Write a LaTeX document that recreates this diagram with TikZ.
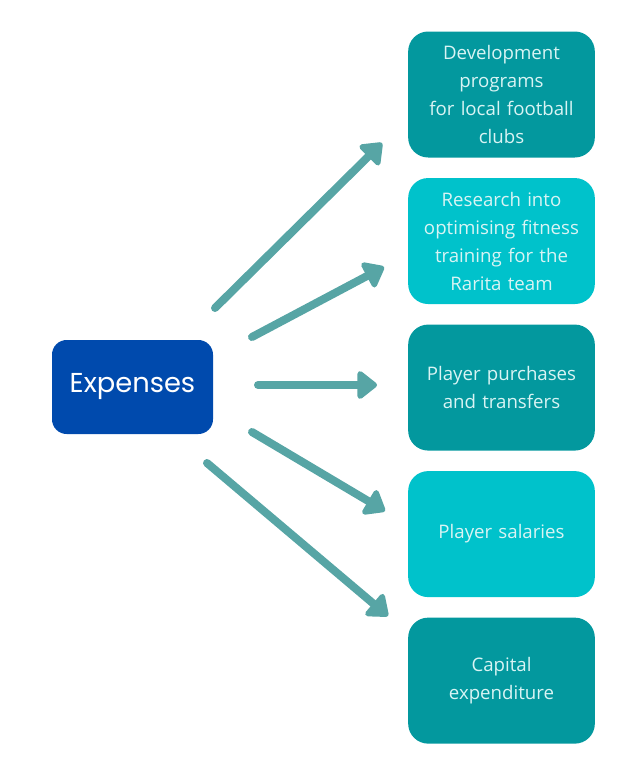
\documentclass[tikz,border=0pt]{standalone}
\usepackage{fontspec}
\setmainfont{Open Sans}
\newfontfamily\poppins{Poppins}
\usetikzlibrary{positioning}
\usetikzlibrary{arrows.meta}
\definecolor{darkBlue}{HTML}{004aad}
\definecolor{darkTeal}{HTML}{03989e}
\definecolor{lightTeal}{HTML}{00c2cb}
\definecolor{arrowTeal}{HTML}{57a5a5}
\definecolor{paleText}{HTML}{d9f4f4}

\begin{document}
\begin{tikzpicture}[x=0.75pt, y=-0.75pt, inner sep=0.0 pt, align=center,
    itembox/.style={rectangle, rounded corners=15pt, text=paleText, font=\fontsize{14}{21}\selectfont, minimum width=140pt, minimum height=94.5pt, text width=130pt},
    flow/.style={draw=arrowTeal, line width=6pt, line cap=round, -{Triangle[length=16pt, width=24pt, round]}}]
    \useasboundingbox (0,0) rectangle (642,760);

    \node [rectangle, fill=darkBlue, rounded corners=11pt, minimum width=120.75pt, minimum height=70.5pt, text=white, font=\poppins\fontsize{20.5}{24}\selectfont] (expenses) at (132.5,387) {Expenses};

    \node [itembox, fill=darkTeal] (devProg) at (501.5,94.5) {Development\\programs\\for local football\\clubs};
    \node [itembox, fill=lightTeal, below=15pt of devProg] (research) {Research into\\optimising fitness\\training for the\\Rarita team};
    \node [itembox, fill=darkTeal, below=15pt of research] (purchases) {Player purchases\\and transfers};
    \node [itembox, fill=lightTeal, below=15pt of purchases] (salaries) {Player salaries};
    \node [itembox, fill=darkTeal, below=15pt of salaries] (capital) {Capital\\expenditure};

    % free ends of the arrows
    \coordinate (devFrom) at (215,308);
    \coordinate (devTo) at (382,143);
    \coordinate (researchFrom) at (252,337);
    \coordinate (researchTo) at (384,267);
    \coordinate (purchasesFrom) at (258,385);
    \coordinate (purchasesTo) at (377,385);
    \coordinate (salariesFrom) at (252,432);
    \coordinate (salariesTo) at (385,511);
    \coordinate (capitalFrom) at (207,463);
    \coordinate (capitalTo) at (388,616);

    \draw [flow] (devFrom) -- (devTo);
    \draw [flow] (researchFrom) -- (researchTo);
    \draw [flow] (purchasesFrom) -- (purchasesTo);
    \draw [flow] (salariesFrom) -- (salariesTo);
    \draw [flow] (capitalFrom) -- (capitalTo);
\end{tikzpicture}
\end{document}
